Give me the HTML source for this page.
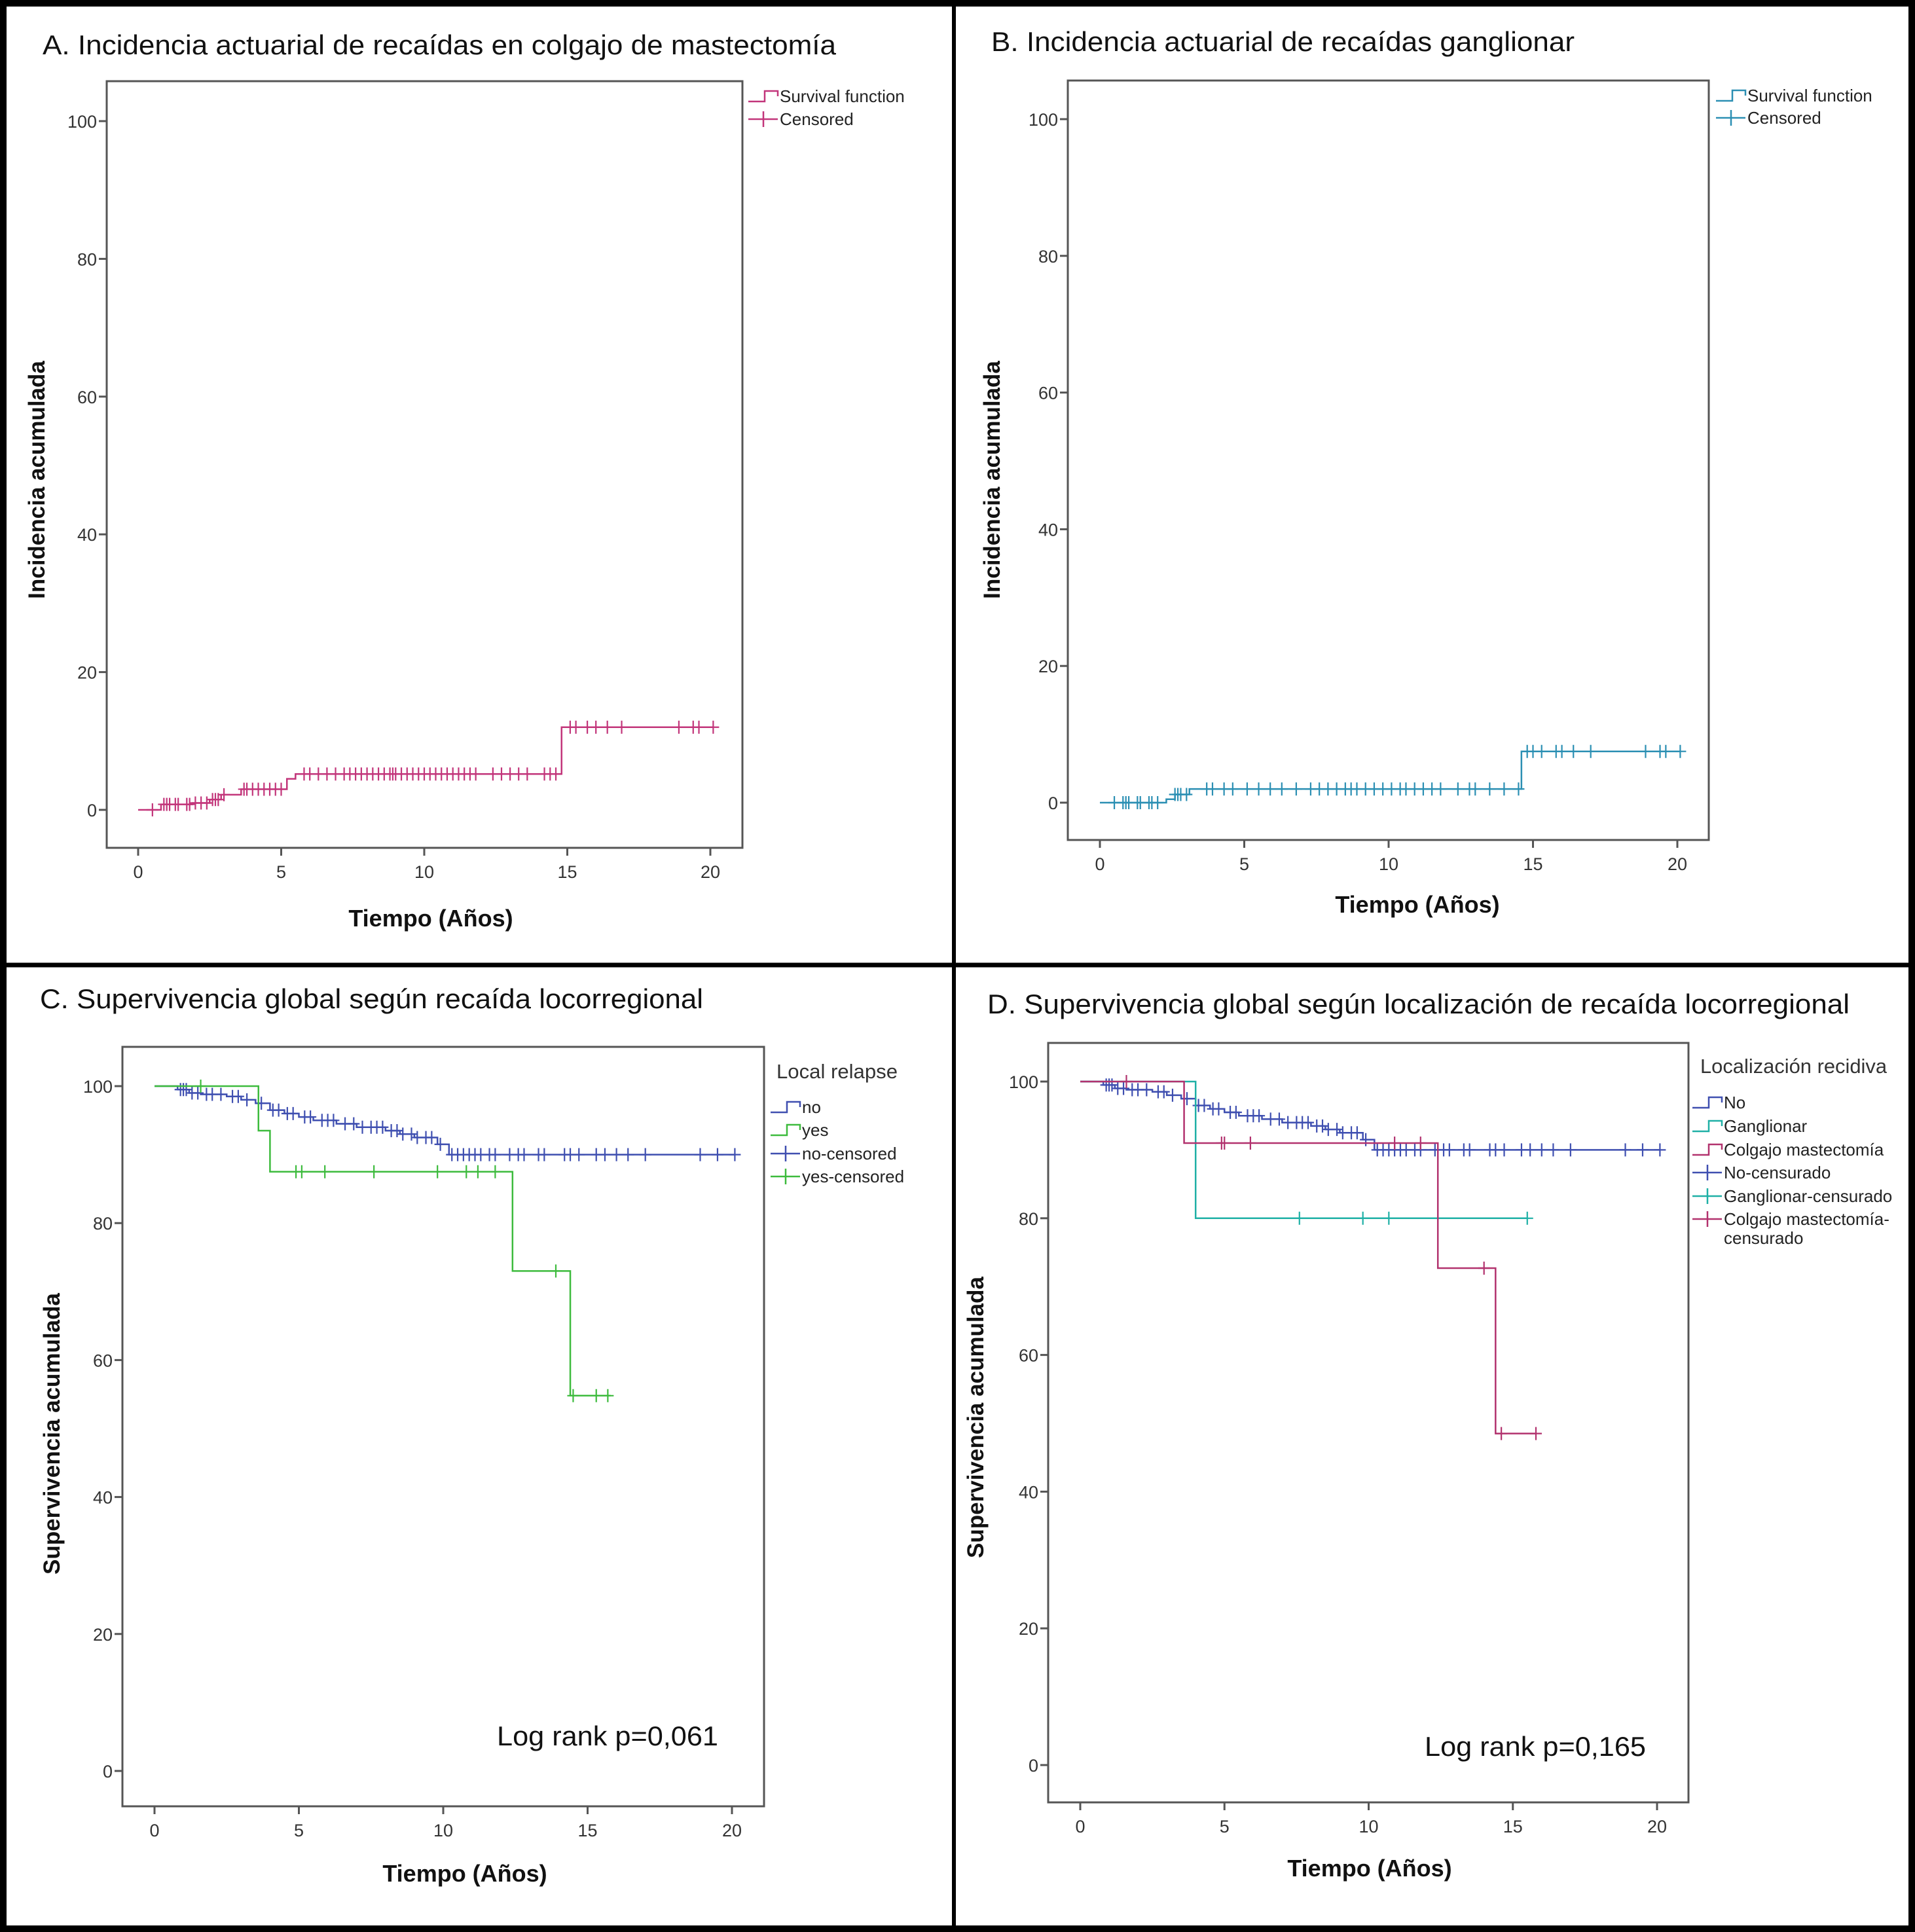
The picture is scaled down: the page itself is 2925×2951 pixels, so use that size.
<!DOCTYPE html>
<html><head><meta charset="utf-8"><style>
html,body{margin:0;padding:0;background:#fff}
svg{display:block}
text{font-family:"Liberation Sans",sans-serif}
</style></head><body>
<svg id="fig" xmlns="http://www.w3.org/2000/svg" width="2925" height="2951" viewBox="0 0 2925 2951">
<rect x="0" y="0" width="2925" height="2951" fill="#fff"/>
</svg>
<script>
// ---- Panel A data (cumulative incidence, mastectomy flap) ----
const aStepTimes = [0, 0.8, 1.9, 2.5, 2.9, 3.6, 5.2, 5.5, 14.8];
const aStepValues = [0, 0.8, 1.0, 1.5, 2.2, 3.0, 4.5, 5.2, 12];
const aEnd = 20.1;
const aCensor = [0.5,0.9,1.0,1.1,1.3,1.4,1.7,1.8,2.0,2.2,2.4,2.6,2.7,2.8,3.0,3.7,3.8,4.0,4.2,4.4,4.6,4.8,5.0,5.8,6.0,6.3,6.6,6.9,7.2,7.4,7.6,7.8,8.0,8.2,8.4,8.6,8.8,8.9,9.0,9.2,9.4,9.6,9.8,10.0,10.2,10.4,10.6,10.8,11.0,11.2,11.4,11.6,11.8,12.4,12.7,13.0,13.3,13.6,14.2,14.4,14.6,15.1,15.3,15.7,16.0,16.4,16.9,18.9,19.4,19.6,20.1];
// ---- Panel B data (cumulative incidence, nodal) ----
const bStepTimes = [0, 2.3, 2.6, 3.1, 14.6];
const bStepValues = [0, 0.5, 1.2, 2.0, 7.5];
const bEnd = 20.1;
const bCensor = [0.5,0.8,0.9,1.0,1.3,1.4,1.7,1.8,2.0,2.6,2.7,2.8,3.0,3.7,3.9,4.3,4.6,5.1,5.5,5.9,6.3,6.8,7.3,7.6,7.9,8.2,8.5,8.7,8.9,9.2,9.5,9.8,10.1,10.4,10.6,10.9,11.2,11.5,11.8,12.4,12.8,13.0,13.5,14.0,14.5,14.8,15.0,15.3,15.8,16.0,16.4,17.0,18.9,19.4,19.6,20.1];
// ---- Panel C / D shared "no relapse" data ----
const noStepTimes = [0, 0.8, 1.2, 1.6, 2.5, 3.0, 3.5, 4.0, 4.5, 5.0, 5.5, 6.3, 7.0, 8.0, 8.5, 9.0, 9.8, 10.2];
const noStepValues = [100, 99.5, 99, 98.8, 98.5, 98, 97.5, 96.5, 96, 95.5, 95, 94.5, 94, 93.5, 93, 92.5, 91.5, 90];
const noEnd = 20.1;
const noCensor = [0.9,1.0,1.1,1.3,1.5,1.8,2.0,2.3,2.7,2.9,3.2,3.7,4.1,4.3,4.6,4.8,5.2,5.4,5.8,6.0,6.2,6.6,6.9,7.2,7.5,7.7,7.9,8.2,8.4,8.6,8.9,9.1,9.4,9.6,9.9,10.3,10.5,10.7,10.9,11.1,11.3,11.6,11.8,12.3,12.6,12.8,13.3,13.5,14.2,14.4,14.7,15.3,15.6,16.0,16.4,17.0,18.9,19.5,20.1];
// ---- Panel C "yes" ----
const yesStepTimes = [0, 3.6, 4.0, 12.4, 14.4];
const yesStepValues = [100, 93.5, 87.5, 73, 54.8];
const yesEnd = 15.8;
const yesCensor = [1.6,4.9,5.1,5.9,7.6,9.8,10.8,11.2,11.8,13.9,14.5,15.3,15.7];
// ---- Panel D ----
const ganStepTimes = [0, 4.0];
const ganStepValues = [100, 80];
const ganEnd = 15.5;
const ganCensor = [7.6, 9.8, 10.7, 15.5];
const colStepTimes = [0, 3.6, 12.4, 14.4];
const colStepValues = [100, 91, 72.7, 48.5];
const colEnd = 15.8;
const colCensor = [1.6, 4.9, 5.0, 5.9, 10.9, 11.8, 14.0, 14.6, 15.8];
const xTicks = [0, 5, 10, 15, 20];
const yTicks = [0, 20, 40, 60, 80, 100];

const NS = "http://www.w3.org/2000/svg";
const svg = document.getElementById('fig');
function mk(tag, attrs, parent, txt) {
  const e = document.createElementNS(NS, tag);
  for (const k in attrs) e.setAttribute(k, attrs[k]);
  if (txt !== undefined) e.textContent = txt;
  (parent || svg).appendChild(e);
  return e;
}
function stepVal(times, vals, t) {
  let v = vals[0];
  for (let i = 0; i < times.length; i++) if (t >= times[i]) v = vals[i];
  return v;
}
function drawPanel(p) {
  const g = mk('g', {});
  
  
  const sx = t => p.x0 + (p.x20 - p.x0) * t / 20;
  const sy = v => p.y0 + (p.y100 - p.y0) * v / 100;
  const title = mk('text', {x: p.tx, y: p.ty, 'font-size': 42, fill: '#111', textLength: p.tw, lengthAdjust: 'spacingAndGlyphs'}, g, p.title);
  
  
  const box = mk('rect', {x: p.bl, y: p.bt, width: p.br - p.bl, height: p.bb - p.bt, fill: 'none', stroke: '#555', 'stroke-width': 3}, g);
  
  
  xTicks.forEach(t => {
    const x = sx(t);
    const tk = mk('line', {x1: x, x2: x, y1: p.bb, y2: p.bb + 12, stroke: '#555', 'stroke-width': 3}, g);
    
    
    const lb = mk('text', {x: x, y: p.bb + 46, 'font-size': 27, fill: '#333', 'text-anchor': 'middle'}, g, String(t));
    
    
  });
  yTicks.forEach(v => {
    const y = sy(v);
    const tk = mk('line', {x1: p.bl - 12, x2: p.bl, y1: y, y2: y, stroke: '#555', 'stroke-width': 3}, g);
    
    
    const lb = mk('text', {x: p.bl - 15, y: y + 10, 'font-size': 27, fill: '#333', 'text-anchor': 'end'}, g, String(v));
    
    
  });
  const xt = mk('text', {x: p.xtx, y: p.xty, 'font-size': 36, 'font-weight': 'bold', fill: '#111', 'text-anchor': 'middle'}, g, 'Tiempo (Años)');
  
  
  const yt = mk('text', {x: 0, y: 0, 'font-size': 35, 'font-weight': 'bold', fill: '#111', 'text-anchor': 'middle', transform: `translate(${p.ytx},${p.yty}) rotate(-90)`}, g, p.ytitle);
  
  
  p.series.forEach(s => {
    let d = '';
    for (let i = 0; i < s.times.length; i++) {
      const x = sx(s.times[i]);
      if (i === 0) d += `M${x},${sy(s.vals[0])}`;
      else d += `L${x},${sy(s.vals[i-1])}L${x},${sy(s.vals[i])}`;
    }
    d += `L${sx(s.end)},${sy(s.vals[s.vals.length-1])}`;
    const path = mk('path', {d: d, fill: 'none', stroke: s.color, 'stroke-width': 2.5}, g);
    
    
    s.censor.forEach(t => {
      const x = sx(t), y = sy(stepVal(s.times, s.vals, t));
      const c = mk('path', {d: `M${x},${y-10}L${x},${y+10}M${x-9},${y}L${x+9},${y}`, stroke: s.color, 'stroke-width': 2.2}, g);
      
      
    });
  });
  if (p.legendTitle) {
    const lt = mk('text', {x: p.ltx, y: p.ltY + 10, 'font-size': 31, fill: '#333', textLength: p.ltw, lengthAdjust: 'spacingAndGlyphs'}, g, p.legendTitle);
    
    
  }
  p.legend.forEach((e, i) => {
    const y = p.ly[i];
    const lx = p.lx;
    let d;
    if (e.kind === 'step') d = `M${lx-45},${y+8}L${lx-20},${y+8}L${lx-20},${y-8}L${lx},${y-8}L${lx},${y}`;
    else d = `M${lx-45},${y}L${lx},${y}M${lx-22},${y-12}L${lx-22},${y+12}`;
    const sym = mk('path', {d: d, fill: 'none', stroke: e.color, 'stroke-width': 2.5}, g);
    
    
    const tx = mk('text', {x: lx + 3, y: y + 9, 'font-size': 26, fill: '#222'}, g, e.label);
    
    
    if (e.label2) {
      const t2 = mk('text', {x: lx + 3, y: y + 38, 'font-size': 26, fill: '#222'}, g, e.label2);
      
      
    }
  });
  if (p.logrank) {
    const lr = mk('text', {x: p.lrx, y: p.lry, 'font-size': 42, fill: '#111', textLength: p.lrw, lengthAdjust: 'spacingAndGlyphs'}, g, p.logrank);
    
    
  }
}
const MAG = '#c2357a', TEAL = '#2b8fb3', BLUE = '#3f4fb0', GREEN = '#3dbb3d', CYAN = '#1fb0a6', PLUM = '#b2326e';
drawPanel({name: 'panel-a', title: 'A. Incidencia actuarial de recaídas en colgajo de mastectomía', tx: 65, ty: 83, tw: 1212,
  bl: 163, bt: 124, br: 1134, bb: 1295, x0: 211, x20: 1085, y100: 185, y0: 1237,
  xtx: 658, xty: 1415, ytx: 68, yty: 733, ytitle: 'Incidencia acumulada',
  series: [{name: 'survival-function', times: aStepTimes, vals: aStepValues, end: aEnd, censor: aCensor, color: MAG}],
  lx: 1188, ly: [147, 182], legend: [{kind: 'step', color: MAG, label: 'Survival function'}, {kind: 'cens', color: MAG, label: 'Censored'}]});
drawPanel({name: 'panel-b', title: 'B. Incidencia actuarial de recaídas ganglionar', tx: 1514, ty: 78, tw: 891,
  bl: 1631, bt: 123, br: 2610, bb: 1283, x0: 1680, x20: 2562, y100: 182, y0: 1226,
  xtx: 2165, xty: 1394, ytx: 1527, yty: 733, ytitle: 'Incidencia acumulada',
  series: [{name: 'survival-function', times: bStepTimes, vals: bStepValues, end: bEnd, censor: bCensor, color: TEAL}],
  lx: 2666, ly: [146, 180], legend: [{kind: 'step', color: TEAL, label: 'Survival function'}, {kind: 'cens', color: TEAL, label: 'Censored'}]});
drawPanel({name: 'panel-c', title: 'C. Supervivencia global según recaída locorregional', tx: 61, ty: 1540, tw: 1013,
  bl: 187, bt: 1599, br: 1167, bb: 2759, x0: 236, x20: 1118, y100: 1659, y0: 2705,
  xtx: 710, xty: 2874, ytx: 91, yty: 2190, ytitle: 'Supervivencia acumulada',
  series: [{name: 'no', times: noStepTimes, vals: noStepValues, end: noEnd, censor: noCensor, color: BLUE},
           {name: 'yes', times: yesStepTimes, vals: yesStepValues, end: yesEnd, censor: yesCensor, color: GREEN}],
  legendTitle: 'Local relapse', ltx: 1186, ltw: 185, ltY: 1637, lx: 1222, ly: [1691, 1726, 1762, 1797],
  legend: [{kind: 'step', color: BLUE, label: 'no'}, {kind: 'step', color: GREEN, label: 'yes'}, {kind: 'cens', color: BLUE, label: 'no-censored'}, {kind: 'cens', color: GREEN, label: 'yes-censored'}],
  logrank: 'Log rank p=0,061', lrx: 759, lry: 2666, lrw: 338});
drawPanel({name: 'panel-d', title: 'D. Supervivencia global según localización de recaída locorregional', tx: 1508, ty: 1548, tw: 1317,
  bl: 1601, bt: 1593, br: 2579, bb: 2753, x0: 1650, x20: 2531, y100: 1652, y0: 2696,
  xtx: 2092, xty: 2866, ytx: 1502, yty: 2165, ytitle: 'Supervivencia acumulada',
  series: [{name: 'no', times: noStepTimes, vals: noStepValues, end: noEnd, censor: noCensor, color: BLUE},
           {name: 'ganglionar', times: ganStepTimes, vals: ganStepValues, end: ganEnd, censor: ganCensor, color: CYAN},
           {name: 'colgajo', times: colStepTimes, vals: colStepValues, end: colEnd, censor: colCensor, color: PLUM}],
  legendTitle: 'Localización recidiva', ltx: 2597, ltw: 285, ltY: 1629, lx: 2630, ly: [1684, 1720, 1756, 1791, 1827, 1862],
  legend: [{kind: 'step', color: BLUE, label: 'No'}, {kind: 'step', color: CYAN, label: 'Ganglionar'}, {kind: 'step', color: PLUM, label: 'Colgajo mastectomía'}, {kind: 'cens', color: BLUE, label: 'No-censurado'}, {kind: 'cens', color: CYAN, label: 'Ganglionar-censurado'}, {kind: 'cens', color: PLUM, label: 'Colgajo mastectomía-', label2: 'censurado'}],
  logrank: 'Log rank p=0,165', lrx: 2176, lry: 2682, lrw: 338});
// frame and dividers
const frame = mk('rect', {x: 5, y: 5, width: 2915, height: 2941, fill: 'none', stroke: '#000', 'stroke-width': 10});


const vdiv = mk('line', {x1: 1457, x2: 1457, y1: 0, y2: 2951, stroke: '#000', 'stroke-width': 6});


const hdiv = mk('line', {x1: 0, x2: 2925, y1: 1474, y2: 1474, stroke: '#000', 'stroke-width': 7});


</script>
</body></html>
